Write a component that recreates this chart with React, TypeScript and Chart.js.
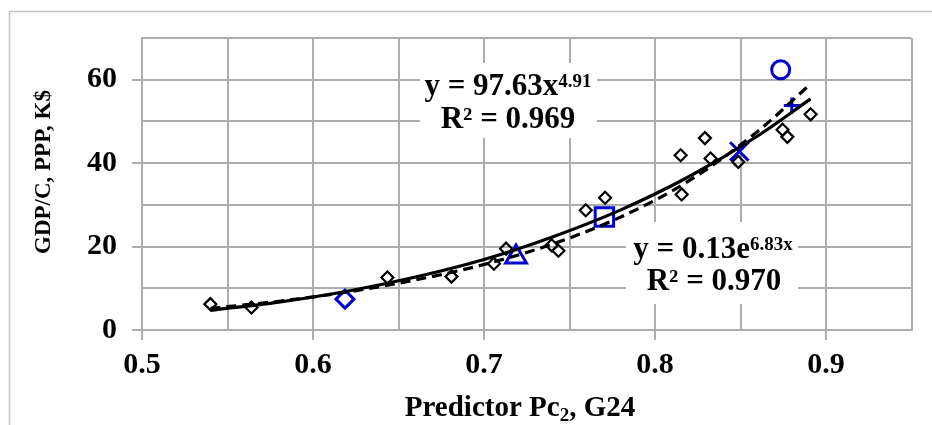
import React, { useEffect, useRef } from 'react';
import { Chart, registerables } from 'chart.js';

Chart.register(...registerables);

// Black diamond observations
const diamondX = [0.540, 0.564, 0.6435, 0.681, 0.7058, 0.7129, 0.7396, 0.7435, 0.7595, 0.7708, 0.8150, 0.8156, 0.8292, 0.8325, 0.8487, 0.8746, 0.8774, 0.8910];
const diamondY = [6.2, 5.4, 12.6, 12.8, 15.9, 19.5, 20.3, 19.0, 28.7, 31.7, 41.9, 32.5, 46.0, 41.1, 40.3, 48.0, 46.3, 51.7];

// Highlighted (blue) observations
const blueX = [0.6187, 0.7187, 0.7704, 0.8493, 0.8800, 0.8735];
const blueY = [7.4, 17.5, 27.1, 42.8, 53.8, 62.4];
const blueStyles = ['rectRot', 'triangle', 'rect', 'crossRot', 'cross', 'circle'];
const blueRadius = [9, 12, 13, 13, 8, 9];

// Trend curves
const trendX = [0.54, 0.58, 0.62, 0.66, 0.70, 0.74, 0.78, 0.82, 0.86, 0.891];
const powerY = [4.7, 6.7, 9.3, 12.7, 16.9, 22.3, 28.8, 36.8, 46.5, 55.4];
const expY = [5.2, 6.9, 9.1, 12.0, 15.7, 20.6, 27.1, 35.8, 47.6, 59.0];

// Texts
const xTitleMain = 'Predictor Pc';
const xTitleSub = '2';
const xTitleEnd = ', G24';
const yTitle = 'GDP/C, PPP, K$';
const eq1Main = 'y = 97.63x';
const eq1Sup = '4.91';
const eq1R = 'R² = 0.969';
const eq2Main = 'y = 0.13e';
const eq2Sup = '6.83x';
const eq2R = 'R² = 0.970';

const FONT = '"Liberation Serif", "Times New Roman", serif';
const BLUE = '#0000cc';
const GRID = '#adadad';

type Part = { text: string; size: number; dy: number };

function drawParts(ctx: CanvasRenderingContext2D, parts: Part[], cx: number, baseline: number) {
  let total = 0;
  const widths = parts.map((p) => {
    ctx.font = `bold ${p.size}px ${FONT}`;
    const w = ctx.measureText(p.text).width;
    total += w;
    return w;
  });
  let x = cx - total / 2;
  ctx.textAlign = 'left';
  ctx.textBaseline = 'alphabetic';
  parts.forEach((p, i) => {
    ctx.font = `bold ${p.size}px ${FONT}`;
    ctx.fillText(p.text, x, baseline + p.dy);
    x += widths[i];
  });
}

const textPlugin = {
  id: 'textPlugin',
  beforeDraw(chart: any) {
    const ctx = chart.ctx as CanvasRenderingContext2D;
    ctx.save();
    ctx.fillStyle = '#ffffff';
    ctx.fillRect(0, 0, chart.width, chart.height);
    ctx.strokeStyle = '#c4c4c4';
    ctx.lineWidth = 1.5;
    ctx.strokeRect(9.5, 11.5, 1000, 1000);
    ctx.restore();
  },
  afterDatasetsDraw(chart: any) {
    const ctx = chart.ctx as CanvasRenderingContext2D;
    ctx.save();
    ctx.fillStyle = '#ffffff';
    ctx.fillRect(420, 63, 177, 75);
    ctx.fillRect(626, 222, 172, 82);
    ctx.fillStyle = '#000000';
    drawParts(ctx, [
      { text: eq1Main, size: 31, dy: 0 },
      { text: eq1Sup, size: 19, dy: -8 },
    ], 508, 95);
    drawParts(ctx, [{ text: eq1R, size: 31, dy: 0 }], 508, 128);
    drawParts(ctx, [
      { text: eq2Main, size: 31, dy: 0 },
      { text: eq2Sup, size: 19, dy: -8 },
    ], 713, 258);
    drawParts(ctx, [{ text: eq2R, size: 31, dy: 0 }], 714, 290);
    // x title
    drawParts(ctx, [
      { text: xTitleMain, size: 29, dy: 0 },
      { text: xTitleSub, size: 19, dy: 5 },
      { text: xTitleEnd, size: 29, dy: 0 },
    ], 520, 416);
    // y title
    ctx.translate(50, 172);
    ctx.rotate(-Math.PI / 2);
    drawParts(ctx, [{ text: yTitle, size: 23, dy: 0 }], 0, 0);
    ctx.restore();
  },
};

function isMultiple(v: number, step: number) {
  const r = v / step;
  return Math.abs(r - Math.round(r)) < 1e-6;
}

export default function App() {
  const ref = useRef<HTMLCanvasElement | null>(null);
  useEffect(() => {
    if (!ref.current) return;
    const pts = (xs: number[], ys: number[]) => xs.map((x, i) => ({ x, y: ys[i] }));
    const blueSets = blueX.map((x, i) => ({
      label: 'b' + i,
      data: [{ x, y: blueY[i] }],
      pointStyle: blueStyles[i] as any,
      pointRadius: blueRadius[i],
      pointBorderColor: BLUE,
      pointBackgroundColor: 'rgba(0,0,0,0)',
      pointBorderWidth: 3,
      showLine: false,
    }));
    const chart = new Chart(ref.current, {
      type: 'scatter',
      data: {
        datasets: [
          {
            label: 'power',
            data: pts(trendX, powerY),
            showLine: true,
            borderColor: '#000000',
            borderWidth: 3.2,
            pointRadius: 0,
            cubicInterpolationMode: 'monotone',
          },
          {
            label: 'exp',
            data: pts(trendX, expY),
            showLine: true,
            borderColor: '#000000',
            borderWidth: 3.2,
            borderDash: [10, 6],
            pointRadius: 0,
            cubicInterpolationMode: 'monotone',
          },
          ...blueSets,
          {
            label: 'obs',
            data: pts(diamondX, diamondY),
            pointStyle: 'rectRot',
            pointRadius: 6,
            pointBorderColor: '#000000',
            pointBackgroundColor: 'rgba(0,0,0,0)',
            pointBorderWidth: 2.2,
            showLine: false,
          },
        ] as any,
      },
      options: {
        animation: false,
        responsive: false,
        devicePixelRatio: 1,
        layout: { padding: { left: 0, top: 38, right: 20.5, bottom: 0 } },
        plugins: { legend: { display: false }, tooltip: { enabled: false } },
        scales: {
          x: {
            type: 'linear',
            min: 0.5,
            max: 0.95,
            afterFit: (s: any) => { s.height = 95; },
            border: { color: GRID, width: 2 },
            grid: {
              color: GRID,
              lineWidth: 2,
              tickLength: 10,
              tickColor: (c: any) => (c.tick && isMultiple(c.tick.value, 0.1) ? GRID : 'rgba(0,0,0,0)'),
            },
            ticks: {
              stepSize: 0.05,
              autoSkip: false,
              maxRotation: 0,
              padding: 7,
              color: '#000000',
              font: { family: FONT, size: 30, weight: 'bold' },
              callback: (v: any) => (isMultiple(Number(v), 0.1) && Number(v) < 0.94 ? Number(v).toFixed(1) : ''),
            },
          },
          y: {
            type: 'linear',
            min: 0,
            max: 70,
            afterFit: (s: any) => { s.width = 142; },
            border: { color: GRID, width: 2 },
            grid: {
              color: GRID,
              lineWidth: 2,
              tickLength: 10,
              tickColor: (c: any) => (c.tick && isMultiple(c.tick.value, 20) ? GRID : 'rgba(0,0,0,0)'),
            },
            ticks: {
              stepSize: 10,
              autoSkip: false,
              padding: 15,
              color: '#000000',
              font: { family: FONT, size: 30, weight: 'bold' },
              callback: (v: any) => (isMultiple(Number(v), 20) ? String(v) : ''),
            },
          },
        },
      } as any,
      plugins: [textPlugin],
    });
    return () => chart.destroy();
  }, []);
  return (
    <div style={{ position: 'fixed', left: 0, top: 0, width: 932, height: 425, background: '#fff' }}>
      <canvas ref={ref} width={932} height={425} style={{ display: 'block' }} />
    </div>
  );
}
